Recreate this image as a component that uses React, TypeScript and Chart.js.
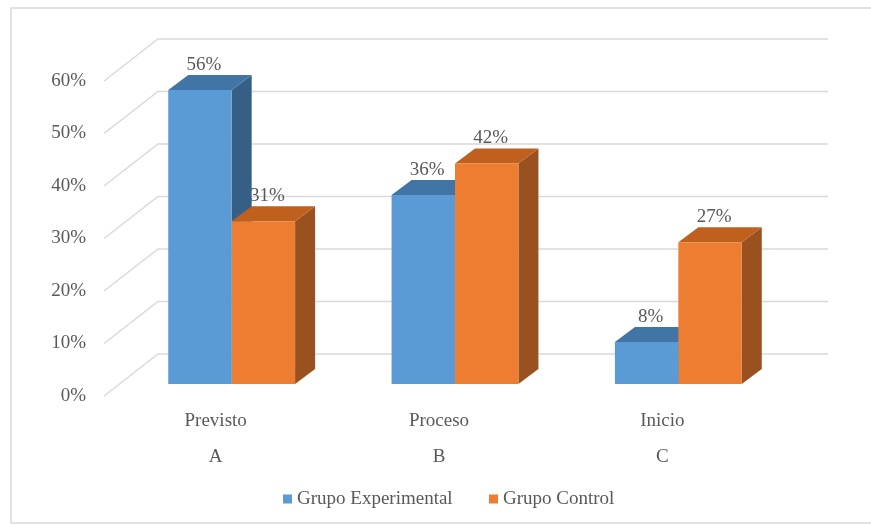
import { useEffect, useRef } from "react";
import { Chart, registerables } from "chart.js";

Chart.register(...registerables);

// Categories, group letters and series values (percent)
const categories = ["Previsto", "Proceso", "Inicio"];
const groupLetters = ["A", "B", "C"];
const experimental = [56, 36, 8];
const control = [31, 42, 27];
const seriesNames = ["Grupo Experimental", "Grupo Control"];
const yMin = 0;
const yMax = 60;
const yStep = 10;

const FONT = "'Liberation Serif', 'Times New Roman', serif";
const TEXT = "#595959";
const GRID = "#d9d9d9";

// front / top / side shades for each series
const palettes = [
  { front: "#5b9bd5", top: "#4175a6", side: "#365f86" },
  { front: "#ed7d31", top: "#c0601f", side: "#9a5120" },
];

// perspective offsets
const BAR_DEPTH = { dx: 20, dy: -15 };
const WALL = { dx: 38, dy: -30 };
const FLOOR_FRONT = { dx: -16, dy: 12 };

const threeD = {
  id: "threeD",
  beforeDraw(chart: any) {
    const { ctx } = chart;
    ctx.save();
    ctx.strokeStyle = GRID;
    ctx.lineWidth = 1.5;
    ctx.strokeRect(11, 8, 880, 515);
    ctx.restore();
  },
  beforeDatasetsDraw(chart: any) {
    const { ctx, chartArea } = chart;
    const y = chart.scales.y;
    ctx.save();
    ctx.strokeStyle = GRID;
    ctx.lineWidth = 1.5;
    for (let v = yMin; v <= yMax; v += yStep) {
      const py = y.getPixelForValue(v);
      const bx = chartArea.left + WALL.dx;
      const by = py + WALL.dy;
      ctx.beginPath();
      ctx.moveTo(chartArea.left + FLOOR_FRONT.dx, py + FLOOR_FRONT.dy);
      ctx.lineTo(bx, by);
      ctx.lineTo(chartArea.right + WALL.dx, by);
      ctx.stroke();
    }
    // side and top faces of each bar, drawn category by category
    const n = chart.data.labels.length;
    for (let j = 0; j < n; j++) {
      chart.data.datasets.forEach((_: any, i: number) => {
        const bar: any = chart.getDatasetMeta(i).data[j];
        const { x, y: top, base, width } = bar.getProps(["x", "y", "base", "width"], true);
        const x0 = x - width / 2;
        const x1 = x + width / 2;
        const p = palettes[i];
        ctx.fillStyle = p.side;
        ctx.beginPath();
        ctx.moveTo(x1, top);
        ctx.lineTo(x1 + BAR_DEPTH.dx, top + BAR_DEPTH.dy);
        ctx.lineTo(x1 + BAR_DEPTH.dx, base + BAR_DEPTH.dy);
        ctx.lineTo(x1, base);
        ctx.closePath();
        ctx.fill();
        ctx.fillStyle = p.top;
        ctx.beginPath();
        ctx.moveTo(x0, top);
        ctx.lineTo(x1, top);
        ctx.lineTo(x1 + BAR_DEPTH.dx, top + BAR_DEPTH.dy);
        ctx.lineTo(x0 + BAR_DEPTH.dx, top + BAR_DEPTH.dy);
        ctx.closePath();
        ctx.fill();
      });
    }
    ctx.restore();
  },
  afterDatasetsDraw(chart: any) {
    const { ctx } = chart;
    ctx.save();
    ctx.font = `19px ${FONT}`;
    ctx.fillStyle = TEXT;
    ctx.textAlign = "center";
    ctx.textBaseline = "middle";
    chart.data.datasets.forEach((ds: any, i: number) => {
      chart.getDatasetMeta(i).data.forEach((bar: any, j: number) => {
        const { x, y } = bar.getProps(["x", "y"], true);
        ctx.fillText(`${ds.data[j]}%`, x + 4, y - 25);
      });
    });

    // legend
    ctx.textAlign = "left";
    const legendY = 499;
    const items = [
      { x: 283, name: seriesNames[0], color: palettes[0].front },
      { x: 489, name: seriesNames[1], color: palettes[1].front },
    ];
    items.forEach((it) => {
      ctx.fillStyle = it.color;
      ctx.fillRect(it.x, legendY - 4.5, 9, 9);
      ctx.fillStyle = TEXT;
      ctx.fillText(it.name, it.x + 14, legendY);
    });
    ctx.restore();
  },
};

export default function App() {
  const canvasRef = useRef<HTMLCanvasElement | null>(null);

  useEffect(() => {
    const canvas = canvasRef.current;
    if (!canvas) return;
    const chart = new Chart(canvas, {
      type: "bar",
      data: {
        labels: categories.map((c, i) => [c, groupLetters[i]]),
        datasets: [
          {
            label: seriesNames[0],
            data: experimental,
            backgroundColor: palettes[0].front,
            borderWidth: 0,
          },
          {
            label: seriesNames[1],
            data: control,
            backgroundColor: palettes[1].front,
            borderWidth: 0,
          },
        ],
      },
      options: {
        responsive: false,
        animation: false,
        devicePixelRatio: 1,
        categoryPercentage: 0.568,
        barPercentage: 1,
        layout: { padding: { left: 30, right: 81, top: 69, bottom: 41 } },
        plugins: {
          legend: { display: false },
          tooltip: { enabled: false },
        },
        scales: {
          x: {
            offset: true,
            grid: { display: false, drawTicks: false },
            border: { display: false },
            ticks: {
              color: TEXT,
              font: { family: FONT, size: 19, lineHeight: 36 / 19 },
              padding: 19,
              labelOffset: -16,
              maxRotation: 0,
              autoSkip: false,
            },
            afterFit: (s: any) => {
              s.height = 100;
            },
          },
          y: {
            min: yMin,
            max: yMax,
            grid: { display: false, drawTicks: false },
            border: { display: false },
            ticks: {
              stepSize: yStep,
              color: TEXT,
              font: { family: FONT, size: 19 },
              padding: 34,
              labelOffset: 12,
              callback: (v: any) => `${v}%`,
            },
            afterFit: (s: any) => {
              s.width = 90;
            },
          },
        },
      } as any,
      plugins: [threeD],
    });
    return () => chart.destroy();
  }, []);

  return (
    <div style={{ position: "fixed", left: 0, top: 0, width: 871, height: 525, background: "#fff" }}>
      <canvas ref={canvasRef} width={871} height={525} style={{ display: "block" }} />
    </div>
  );
}
